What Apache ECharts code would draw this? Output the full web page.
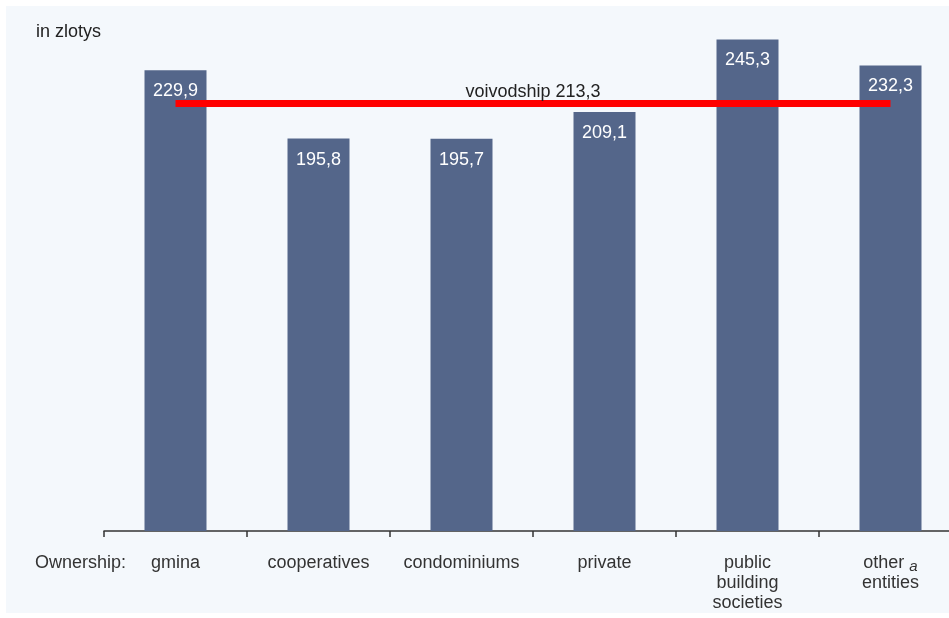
<!DOCTYPE html>
<html>
<head>
<meta charset="utf-8">
<style>
  html, body { margin: 0; padding: 0; background: #ffffff; }
  #chart { width: 949px; height: 618px; }
</style>
<script src="https://cdn.jsdelivr.net/npm/echarts@6/dist/echarts.min.js"></script>
</head>
<body>
<div id="chart"></div>
<script>
// Average rent per dwelling by form of ownership, in zlotys
const categories = ['gmina', 'cooperatives', 'condominiums', 'private', 'public\nbuilding\nsocieties', 'other {sup|a}\nentities'];
const rentValues = [229.9, 195.8, 195.7, 209.1, 245.3, 232.3];
const voivodshipAverage = 213.3;

const fmt = v => v.toFixed(1).replace('.', ',');

const chart = echarts.init(document.getElementById('chart'));
chart.setOption({
  backgroundColor: '#ffffff',
  animation: false,
  textStyle: { fontFamily: 'Liberation Sans, Arial, sans-serif' },
  graphic: [
    { type: 'rect', z: -10, shape: { x: 6, y: 6, width: 943, height: 607 }, style: { fill: '#f4f8fc' } },
    { type: 'text', left: 36, top: 23, style: { text: 'in zlotys', fontSize: 18, fill: '#222222', fontFamily: 'Liberation Sans, Arial, sans-serif' } },
    { type: 'text', left: 35, top: 554, style: { text: 'Ownership:', fontSize: 18, fill: '#333333', fontFamily: 'Liberation Sans, Arial, sans-serif' } }
  ],
  // the plot area runs past the right edge of the canvas
  grid: { left: 104, width: 858, top: 30, bottom: 87, containLabel: false, outerBoundsMode: 'none' },
  xAxis: {
    type: 'category',
    data: categories,
    boundaryGap: true,
    axisLine: { show: true, lineStyle: { color: '#333333', width: 1.5 } },
    axisTick: { show: true, length: 6, alignWithLabel: false, interval: 0, lineStyle: { color: '#333333', width: 1.5 } },
    axisLabel: {
      color: '#333333',
      fontSize: 18,
      lineHeight: 20,
      margin: 22,
      interval: 0,
      rich: {
        sup: { fontSize: 15, fontStyle: 'italic', color: '#333333', padding: [8, 0, 0, 0] }
      }
    }
  },
  yAxis: { type: 'value', min: 0, max: 250, show: false, splitLine: { show: false } },
  series: [{
    type: 'bar',
    data: rentValues,
    barWidth: 62,
    itemStyle: { color: '#54668a' },
    label: {
      show: true,
      position: 'insideTop',
      distance: 12,
      color: '#ffffff',
      fontSize: 18,
      formatter: p => fmt(p.value)
    },
    markLine: {
      silent: true,
      symbol: 'none',
      lineStyle: { color: '#ff0000', width: 7, type: 'solid' },
      label: {
        show: true,
        position: 'middle',
        distance: 3,
        color: '#222222',
        fontSize: 18,
        formatter: 'voivodship ' + fmt(voivodshipAverage)
      },
      data: [[
        { coord: [0, voivodshipAverage] },
        { coord: [categories.length - 1, voivodshipAverage] }
      ]]
    }
  }]
});
</script>
</body>
</html>
